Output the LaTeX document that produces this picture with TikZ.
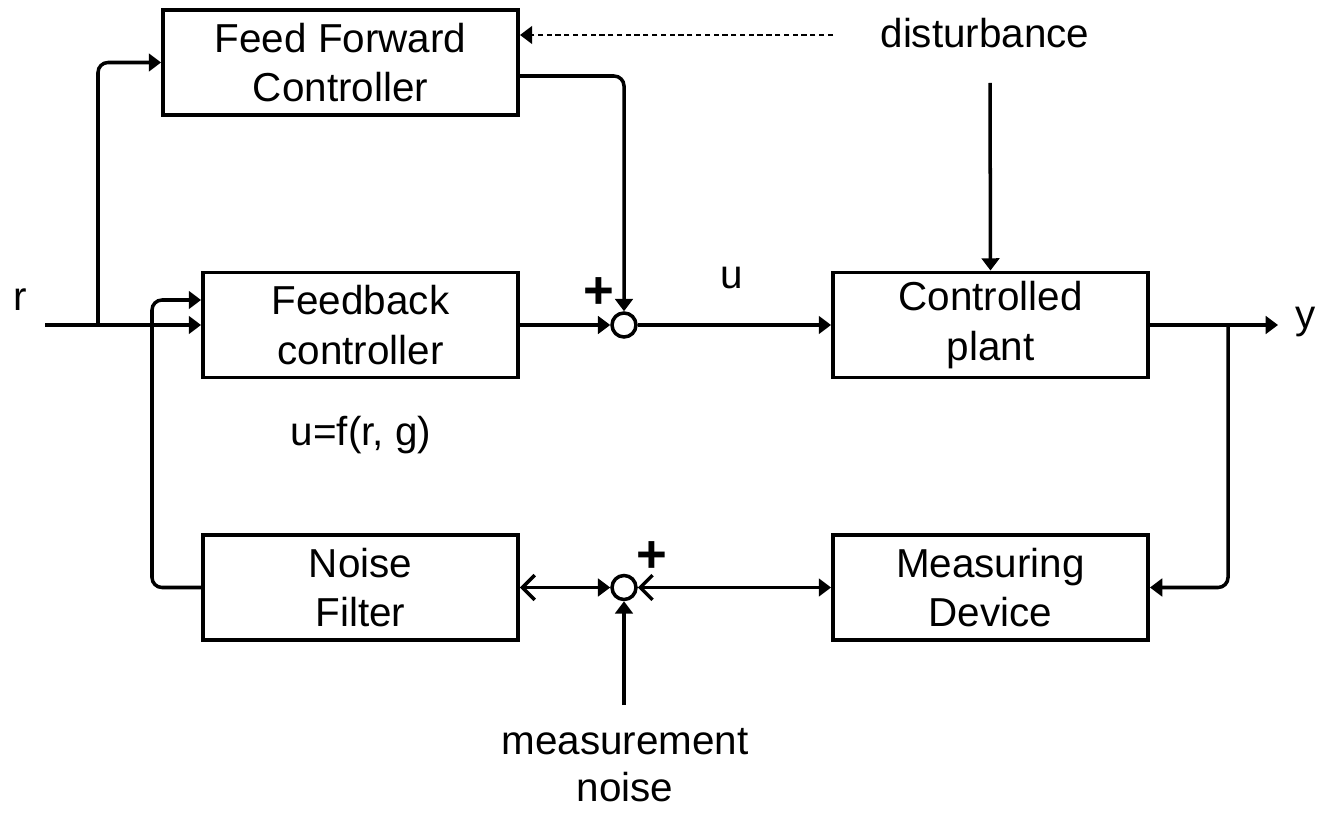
\documentclass[tikz,border=0pt]{standalone}
\usepackage{fontspec}
\setmainfont{Liberation Sans}
\usetikzlibrary{arrows.meta,positioning,calc}

\begin{document}
\begin{tikzpicture}[
  blk/.style={draw,line width=2.2pt,minimum width=6.3cm,minimum height=2.1cm,align=center,font=\fontsize{23}{28}\selectfont},
  sum/.style={draw,circle,line width=2pt,minimum size=0.48cm,inner sep=0pt},
  lbl/.style={align=center,font=\fontsize{23}{27}\selectfont},
  plus/.style={font=\fontsize{30}{30}\selectfont\bfseries,inner sep=0pt},
  arr/.style={-{Triangle[length=7pt,width=10pt]},line width=2pt},
  barb/.style={{Straight Barb[length=7pt,width=14pt]}-{Triangle[length=7pt,width=10pt]},line width=2pt}
]
\useasboundingbox (0,0) rectangle (26.36,-16.26);
% Blocks
\node[blk,minimum width=7.1cm] (ff) at (6.81,-1.25)  {Feed Forward\\Controller};
\node[blk]                     (fb) at (7.21,-6.5)   {Feedback\\controller};
\node[blk]                     (cp) at (19.81,-6.5)  {Controlled\\plant};
\node[blk]                     (nf) at (7.21,-11.75) {Noise\\Filter};
\node[blk]                     (md) at (19.81,-11.75) {Measuring\\Device};
% Summing points
\node[sum] (s1) at (12.48,-6.5)  {};
\node[sum] (s2) at (12.48,-11.75) {};
% Labels
\node[lbl]  (r)    at (0.4,-6.0)    {r};
\node[lbl]  (y)    at (26.12,-6.45) {y};
\node[lbl]  (u)    at (14.64,-5.56) {u};
\node[lbl]  (uf)   at (7.22,-8.7)   {u=f(r, g)};
\node[lbl]  (dist) at (19.7,-0.66)  {disturbance};
\node[lbl]  (mn)   at (12.5,-15.3)  {measurement\\noise};
\node[plus] (p1)   at (11.98,-5.86) {+};
\node[plus] (p2)   at (13.04,-11.14) {+};
% Free ends and corners
\coordinate (rin)  at (0.9,-6.5);
\coordinate (rbr)  at (1.96,-6.5);
\coordinate (yout) at (25.56,-6.5);
\coordinate (ybr)  at (24.56,-6.5);
\coordinate (fbl)  at (3.04,-6.0);
\coordinate (d0)   at (16.66,-0.7);
\coordinate (d1)   at (19.8,-1.66);
\coordinate (n0)   at (12.48,-14.1);

% Arrows
\draw[arr] (rin) -- (fb.west);
\draw[arr,rounded corners=0.2cm] (rbr) |- (ff.west);
\draw[arr,rounded corners=0.2cm] (nf.west) -| (fbl) -- ([yshift=0.5cm]fb.west);
\draw[arr] (fb) -- (s1);
\draw[arr,rounded corners=0.2cm] ([yshift=-0.27cm]ff.east) -| (s1.north);
\draw[arr] (s1) -- (cp);
\draw[arr] (cp.east) -- (yout);
\draw[arr,rounded corners=0.2cm] (ybr) |- (md.east);
\draw[arr,line width=1.7pt,dash pattern=on 3pt off 2pt] (d0) -- ([yshift=0.55cm]ff.east);
\draw[arr] (d1) -- (cp.north);
\draw[barb] (nf.east) -- (s2.west);
\draw[barb] (s2.east) -- (md.west);
\draw[arr] (n0) -- (s2.south);
\end{tikzpicture}
\end{document}
